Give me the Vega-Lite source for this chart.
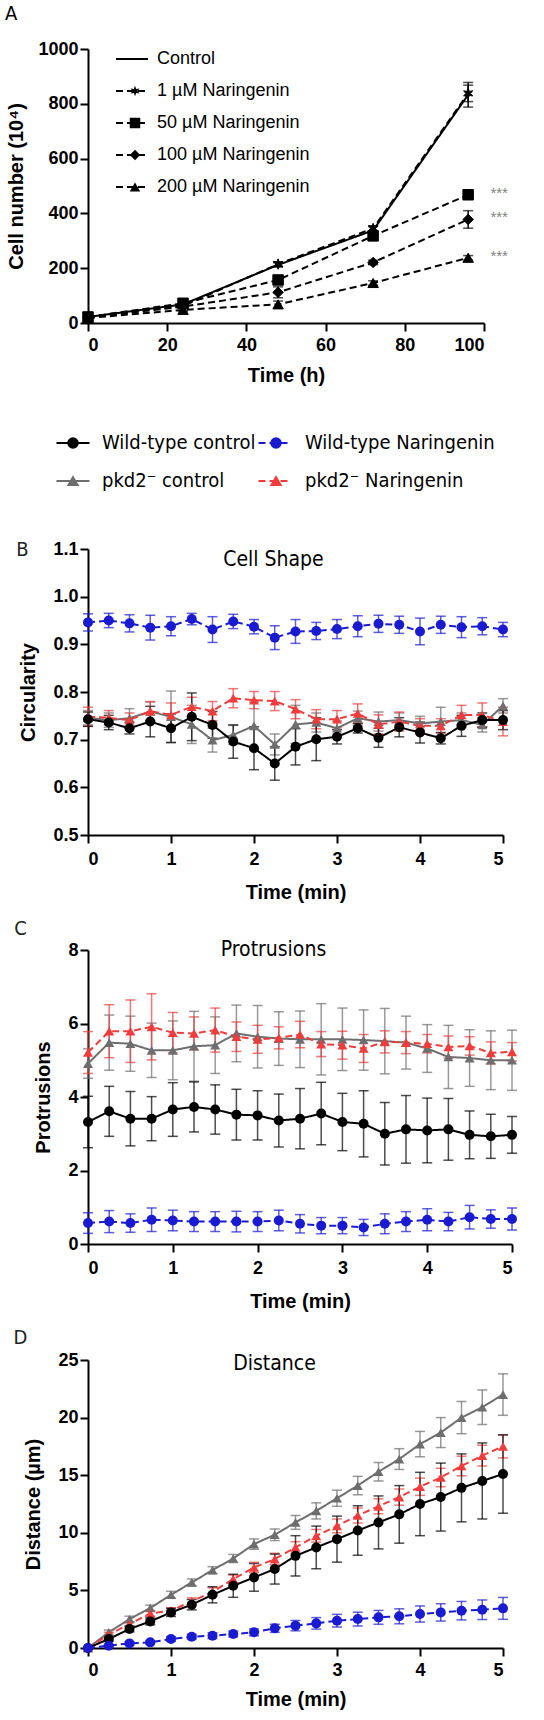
{
  "$schema": "https://vega.github.io/schema/vega-lite/v6.json",
  "background": "white",
  "padding": {"left": 4, "top": 4, "right": 5, "bottom": 2},
  "config": {
    "view": {"stroke": null},
    "axis": {
      "domainColor": "black", "domainWidth": 2, "tickColor": "black", "tickWidth": 2, "tickSize": 8,
      "labelFont": "Liberation Sans", "labelFontWeight": "bold", "labelFontSize": 18, "labelColor": "black",
      "titleFont": "Liberation Sans", "titleFontWeight": "bold", "titleFontSize": 20, "titleColor": "black",
      "grid": false
    },
    "axisX": {"labelPadding": 6, "titlePadding": 11},
    "axisY": {"labelPadding": 2, "titlePadding": 14},
    "title": {"font": "DejaVu Sans Condensed, Lato, sans-serif", "fontWeight": "normal", "color": "black", "fontSize": 22}
  },
  "resolve": {
    "scale": {"color": "independent", "shape": "independent", "strokeDash": "independent"},
    "legend": {"color": "independent", "shape": "independent", "strokeDash": "independent"}
  },
  "columns": 1,
  "align": "none",
  "spacing": 48,
  "datasets": {
    "a": [
      {"g": "Control", "t": 0, "v": 22, "e": 3},
      {"g": "Control", "t": 24, "v": 68, "e": 5},
      {"g": "Control", "t": 48, "v": 212, "e": 8},
      {"g": "Control", "t": 72, "v": 338, "e": 14},
      {"g": "Control", "t": 96, "v": 833, "e": 45},
      {"g": "1 µM Naringenin", "t": 0, "v": 22, "e": 3},
      {"g": "1 µM Naringenin", "t": 24, "v": 62, "e": 5},
      {"g": "1 µM Naringenin", "t": 48, "v": 215, "e": 8},
      {"g": "1 µM Naringenin", "t": 72, "v": 345, "e": 10},
      {"g": "1 µM Naringenin", "t": 96, "v": 838, "e": 30},
      {"g": "50 µM Naringenin", "t": 0, "v": 22, "e": 3},
      {"g": "50 µM Naringenin", "t": 24, "v": 72, "e": 8},
      {"g": "50 µM Naringenin", "t": 48, "v": 157, "e": 10},
      {"g": "50 µM Naringenin", "t": 72, "v": 318, "e": 10},
      {"g": "50 µM Naringenin", "t": 96, "v": 468, "e": 10, "sig": "***"},
      {"g": "100 µM Naringenin", "t": 0, "v": 20, "e": 3},
      {"g": "100 µM Naringenin", "t": 24, "v": 60, "e": 5},
      {"g": "100 µM Naringenin", "t": 48, "v": 112, "e": 20},
      {"g": "100 µM Naringenin", "t": 72, "v": 221, "e": 8},
      {"g": "100 µM Naringenin", "t": 96, "v": 378, "e": 32, "sig": "***"},
      {"g": "200 µM Naringenin", "t": 0, "v": 18, "e": 3},
      {"g": "200 µM Naringenin", "t": 24, "v": 48, "e": 5},
      {"g": "200 µM Naringenin", "t": 48, "v": 68, "e": 12},
      {"g": "200 µM Naringenin", "t": 72, "v": 146, "e": 8},
      {"g": "200 µM Naringenin", "t": 96, "v": 238, "e": 8, "sig": "***"}
    ],
    "b": [
      {"s": "pkd2⁻ control", "t": 0, "v": 0.746, "e": 0.015},
      {"s": "pkd2⁻ control", "t": 0.25, "v": 0.741, "e": 0.015},
      {"s": "pkd2⁻ control", "t": 0.5, "v": 0.745, "e": 0.02},
      {"s": "pkd2⁻ control", "t": 0.75, "v": 0.759, "e": 0.02},
      {"s": "pkd2⁻ control", "t": 1, "v": 0.748, "e": 0.054},
      {"s": "pkd2⁻ control", "t": 1.25, "v": 0.732, "e": 0.04},
      {"s": "pkd2⁻ control", "t": 1.5, "v": 0.699, "e": 0.025},
      {"s": "pkd2⁻ control", "t": 1.75, "v": 0.71, "e": 0.02},
      {"s": "pkd2⁻ control", "t": 2, "v": 0.729, "e": 0.05},
      {"s": "pkd2⁻ control", "t": 2.25, "v": 0.69, "e": 0.022},
      {"s": "pkd2⁻ control", "t": 2.5, "v": 0.732, "e": 0.04},
      {"s": "pkd2⁻ control", "t": 2.75, "v": 0.736, "e": 0.02},
      {"s": "pkd2⁻ control", "t": 3, "v": 0.724, "e": 0.015},
      {"s": "pkd2⁻ control", "t": 3.25, "v": 0.745, "e": 0.015},
      {"s": "pkd2⁻ control", "t": 3.5, "v": 0.738, "e": 0.02},
      {"s": "pkd2⁻ control", "t": 3.75, "v": 0.741, "e": 0.015},
      {"s": "pkd2⁻ control", "t": 4, "v": 0.734, "e": 0.015},
      {"s": "pkd2⁻ control", "t": 4.25, "v": 0.738, "e": 0.03},
      {"s": "pkd2⁻ control", "t": 4.5, "v": 0.741, "e": 0.015},
      {"s": "pkd2⁻ control", "t": 4.75, "v": 0.731, "e": 0.015},
      {"s": "pkd2⁻ control", "t": 5, "v": 0.771, "e": 0.015},
      {"s": "pkd2⁻ Naringenin", "t": 0, "v": 0.748, "e": 0.02},
      {"s": "pkd2⁻ Naringenin", "t": 0.25, "v": 0.746, "e": 0.015},
      {"s": "pkd2⁻ Naringenin", "t": 0.5, "v": 0.741, "e": 0.015},
      {"s": "pkd2⁻ Naringenin", "t": 0.75, "v": 0.76, "e": 0.02},
      {"s": "pkd2⁻ Naringenin", "t": 1, "v": 0.752, "e": 0.025},
      {"s": "pkd2⁻ Naringenin", "t": 1.25, "v": 0.769, "e": 0.02},
      {"s": "pkd2⁻ Naringenin", "t": 1.5, "v": 0.76, "e": 0.02},
      {"s": "pkd2⁻ Naringenin", "t": 1.75, "v": 0.787, "e": 0.02},
      {"s": "pkd2⁻ Naringenin", "t": 2, "v": 0.783, "e": 0.018},
      {"s": "pkd2⁻ Naringenin", "t": 2.25, "v": 0.781, "e": 0.02},
      {"s": "pkd2⁻ Naringenin", "t": 2.5, "v": 0.764, "e": 0.02},
      {"s": "pkd2⁻ Naringenin", "t": 2.75, "v": 0.743, "e": 0.02},
      {"s": "pkd2⁻ Naringenin", "t": 3, "v": 0.743, "e": 0.018},
      {"s": "pkd2⁻ Naringenin", "t": 3.25, "v": 0.755, "e": 0.02},
      {"s": "pkd2⁻ Naringenin", "t": 3.5, "v": 0.732, "e": 0.02},
      {"s": "pkd2⁻ Naringenin", "t": 3.75, "v": 0.738, "e": 0.02},
      {"s": "pkd2⁻ Naringenin", "t": 4, "v": 0.729, "e": 0.015},
      {"s": "pkd2⁻ Naringenin", "t": 4.25, "v": 0.729, "e": 0.015},
      {"s": "pkd2⁻ Naringenin", "t": 4.5, "v": 0.752, "e": 0.02},
      {"s": "pkd2⁻ Naringenin", "t": 4.75, "v": 0.752, "e": 0.025},
      {"s": "pkd2⁻ Naringenin", "t": 5, "v": 0.738, "e": 0.03},
      {"s": "Wild-type control", "t": 0, "v": 0.743, "e": 0.015},
      {"s": "Wild-type control", "t": 0.25, "v": 0.736, "e": 0.015},
      {"s": "Wild-type control", "t": 0.5, "v": 0.724, "e": 0.012},
      {"s": "Wild-type control", "t": 0.75, "v": 0.738, "e": 0.032},
      {"s": "Wild-type control", "t": 1, "v": 0.724, "e": 0.03},
      {"s": "Wild-type control", "t": 1.25, "v": 0.748, "e": 0.05},
      {"s": "Wild-type control", "t": 1.5, "v": 0.731, "e": 0.028},
      {"s": "Wild-type control", "t": 1.75, "v": 0.696, "e": 0.035},
      {"s": "Wild-type control", "t": 2, "v": 0.682, "e": 0.045},
      {"s": "Wild-type control", "t": 2.25, "v": 0.65, "e": 0.035},
      {"s": "Wild-type control", "t": 2.5, "v": 0.685, "e": 0.038},
      {"s": "Wild-type control", "t": 2.75, "v": 0.701, "e": 0.045},
      {"s": "Wild-type control", "t": 3, "v": 0.706, "e": 0.015},
      {"s": "Wild-type control", "t": 3.25, "v": 0.724, "e": 0.01},
      {"s": "Wild-type control", "t": 3.5, "v": 0.704, "e": 0.02},
      {"s": "Wild-type control", "t": 3.75, "v": 0.726, "e": 0.02},
      {"s": "Wild-type control", "t": 4, "v": 0.715, "e": 0.022},
      {"s": "Wild-type control", "t": 4.25, "v": 0.703, "e": 0.012},
      {"s": "Wild-type control", "t": 4.5, "v": 0.729, "e": 0.022},
      {"s": "Wild-type control", "t": 4.75, "v": 0.741, "e": 0.015},
      {"s": "Wild-type control", "t": 5, "v": 0.741, "e": 0.02},
      {"s": "Wild-type Naringenin", "t": 0, "v": 0.946, "e": 0.018},
      {"s": "Wild-type Naringenin", "t": 0.25, "v": 0.95, "e": 0.015},
      {"s": "Wild-type Naringenin", "t": 0.5, "v": 0.944, "e": 0.018},
      {"s": "Wild-type Naringenin", "t": 0.75, "v": 0.935, "e": 0.026},
      {"s": "Wild-type Naringenin", "t": 1, "v": 0.938, "e": 0.02},
      {"s": "Wild-type Naringenin", "t": 1.25, "v": 0.953, "e": 0.012},
      {"s": "Wild-type Naringenin", "t": 1.5, "v": 0.931, "e": 0.027},
      {"s": "Wild-type Naringenin", "t": 1.75, "v": 0.948, "e": 0.015},
      {"s": "Wild-type Naringenin", "t": 2, "v": 0.937, "e": 0.015},
      {"s": "Wild-type Naringenin", "t": 2.25, "v": 0.914, "e": 0.025},
      {"s": "Wild-type Naringenin", "t": 2.5, "v": 0.927, "e": 0.025},
      {"s": "Wild-type Naringenin", "t": 2.75, "v": 0.928, "e": 0.018},
      {"s": "Wild-type Naringenin", "t": 3, "v": 0.932, "e": 0.02},
      {"s": "Wild-type Naringenin", "t": 3.25, "v": 0.938, "e": 0.022},
      {"s": "Wild-type Naringenin", "t": 3.5, "v": 0.943, "e": 0.018},
      {"s": "Wild-type Naringenin", "t": 3.75, "v": 0.941, "e": 0.018},
      {"s": "Wild-type Naringenin", "t": 4, "v": 0.927, "e": 0.028},
      {"s": "Wild-type Naringenin", "t": 4.25, "v": 0.941, "e": 0.018},
      {"s": "Wild-type Naringenin", "t": 4.5, "v": 0.936, "e": 0.022},
      {"s": "Wild-type Naringenin", "t": 4.75, "v": 0.938, "e": 0.018},
      {"s": "Wild-type Naringenin", "t": 5, "v": 0.931, "e": 0.015}
    ],
    "c": [
      {"s": "pkd2⁻ control", "t": 0, "v": 4.91, "e": 0.4},
      {"s": "pkd2⁻ control", "t": 0.25, "v": 5.48, "e": 0.75},
      {"s": "pkd2⁻ control", "t": 0.5, "v": 5.45, "e": 0.75},
      {"s": "pkd2⁻ control", "t": 0.75, "v": 5.27, "e": 0.74},
      {"s": "pkd2⁻ control", "t": 1, "v": 5.27, "e": 0.8},
      {"s": "pkd2⁻ control", "t": 1.25, "v": 5.38, "e": 0.95},
      {"s": "pkd2⁻ control", "t": 1.5, "v": 5.41, "e": 0.77},
      {"s": "pkd2⁻ control", "t": 1.75, "v": 5.73, "e": 0.77},
      {"s": "pkd2⁻ control", "t": 2, "v": 5.64, "e": 0.85},
      {"s": "pkd2⁻ control", "t": 2.25, "v": 5.59, "e": 0.73},
      {"s": "pkd2⁻ control", "t": 2.5, "v": 5.57, "e": 0.77},
      {"s": "pkd2⁻ control", "t": 2.75, "v": 5.57, "e": 0.97},
      {"s": "pkd2⁻ control", "t": 3, "v": 5.57, "e": 0.85},
      {"s": "pkd2⁻ control", "t": 3.25, "v": 5.55, "e": 0.82},
      {"s": "pkd2⁻ control", "t": 3.5, "v": 5.52, "e": 0.89},
      {"s": "pkd2⁻ control", "t": 3.75, "v": 5.48, "e": 0.72},
      {"s": "pkd2⁻ control", "t": 4, "v": 5.32, "e": 0.65},
      {"s": "pkd2⁻ control", "t": 4.25, "v": 5.09, "e": 0.86},
      {"s": "pkd2⁻ control", "t": 4.5, "v": 5.06, "e": 0.77},
      {"s": "pkd2⁻ control", "t": 4.75, "v": 5.0, "e": 0.8},
      {"s": "pkd2⁻ control", "t": 5, "v": 5.0, "e": 0.82},
      {"s": "pkd2⁻ Naringenin", "t": 0, "v": 5.21, "e": 0.57},
      {"s": "pkd2⁻ Naringenin", "t": 0.25, "v": 5.79, "e": 0.72},
      {"s": "pkd2⁻ Naringenin", "t": 0.5, "v": 5.79, "e": 0.85},
      {"s": "pkd2⁻ Naringenin", "t": 0.75, "v": 5.91, "e": 0.9},
      {"s": "pkd2⁻ Naringenin", "t": 1, "v": 5.75, "e": 0.55},
      {"s": "pkd2⁻ Naringenin", "t": 1.25, "v": 5.73, "e": 0.45},
      {"s": "pkd2⁻ Naringenin", "t": 1.5, "v": 5.82, "e": 0.6},
      {"s": "pkd2⁻ Naringenin", "t": 1.75, "v": 5.64, "e": 0.4},
      {"s": "pkd2⁻ Naringenin", "t": 2, "v": 5.57, "e": 0.38},
      {"s": "pkd2⁻ Naringenin", "t": 2.25, "v": 5.61, "e": 0.3},
      {"s": "pkd2⁻ Naringenin", "t": 2.5, "v": 5.7, "e": 0.36},
      {"s": "pkd2⁻ Naringenin", "t": 2.75, "v": 5.44, "e": 0.34},
      {"s": "pkd2⁻ Naringenin", "t": 3, "v": 5.41, "e": 0.38},
      {"s": "pkd2⁻ Naringenin", "t": 3.25, "v": 5.32, "e": 0.38},
      {"s": "pkd2⁻ Naringenin", "t": 3.5, "v": 5.5, "e": 0.3},
      {"s": "pkd2⁻ Naringenin", "t": 3.75, "v": 5.48, "e": 0.3},
      {"s": "pkd2⁻ Naringenin", "t": 4, "v": 5.45, "e": 0.25},
      {"s": "pkd2⁻ Naringenin", "t": 4.25, "v": 5.36, "e": 0.3},
      {"s": "pkd2⁻ Naringenin", "t": 4.5, "v": 5.39, "e": 0.25},
      {"s": "pkd2⁻ Naringenin", "t": 4.75, "v": 5.2, "e": 0.3},
      {"s": "pkd2⁻ Naringenin", "t": 5, "v": 5.23, "e": 0.25},
      {"s": "Wild-type control", "t": 0, "v": 3.32, "e": 0.7},
      {"s": "Wild-type control", "t": 0.25, "v": 3.61, "e": 0.68},
      {"s": "Wild-type control", "t": 0.5, "v": 3.41, "e": 0.74},
      {"s": "Wild-type control", "t": 0.75, "v": 3.41, "e": 0.6},
      {"s": "Wild-type control", "t": 1, "v": 3.66, "e": 0.73},
      {"s": "Wild-type control", "t": 1.25, "v": 3.73, "e": 0.68},
      {"s": "Wild-type control", "t": 1.5, "v": 3.66, "e": 0.67},
      {"s": "Wild-type control", "t": 1.75, "v": 3.52, "e": 0.69},
      {"s": "Wild-type control", "t": 2, "v": 3.5, "e": 0.67},
      {"s": "Wild-type control", "t": 2.25, "v": 3.36, "e": 0.72},
      {"s": "Wild-type control", "t": 2.5, "v": 3.41, "e": 0.82},
      {"s": "Wild-type control", "t": 2.75, "v": 3.55, "e": 0.85},
      {"s": "Wild-type control", "t": 3, "v": 3.32, "e": 0.78},
      {"s": "Wild-type control", "t": 3.25, "v": 3.27, "e": 0.9},
      {"s": "Wild-type control", "t": 3.5, "v": 3.0, "e": 0.85},
      {"s": "Wild-type control", "t": 3.75, "v": 3.12, "e": 0.92},
      {"s": "Wild-type control", "t": 4, "v": 3.09, "e": 0.88},
      {"s": "Wild-type control", "t": 4.25, "v": 3.12, "e": 0.84},
      {"s": "Wild-type control", "t": 4.5, "v": 2.97, "e": 0.65},
      {"s": "Wild-type control", "t": 4.75, "v": 2.93, "e": 0.6},
      {"s": "Wild-type control", "t": 5, "v": 2.97, "e": 0.5},
      {"s": "Wild-type Naringenin", "t": 0, "v": 0.57, "e": 0.28},
      {"s": "Wild-type Naringenin", "t": 0.25, "v": 0.61, "e": 0.3},
      {"s": "Wild-type Naringenin", "t": 0.5, "v": 0.57, "e": 0.25},
      {"s": "Wild-type Naringenin", "t": 0.75, "v": 0.66, "e": 0.32},
      {"s": "Wild-type Naringenin", "t": 1, "v": 0.64, "e": 0.28},
      {"s": "Wild-type Naringenin", "t": 1.25, "v": 0.61, "e": 0.27},
      {"s": "Wild-type Naringenin", "t": 1.5, "v": 0.61, "e": 0.27},
      {"s": "Wild-type Naringenin", "t": 1.75, "v": 0.61, "e": 0.28},
      {"s": "Wild-type Naringenin", "t": 2, "v": 0.61, "e": 0.27},
      {"s": "Wild-type Naringenin", "t": 2.25, "v": 0.64, "e": 0.28},
      {"s": "Wild-type Naringenin", "t": 2.5, "v": 0.55, "e": 0.25},
      {"s": "Wild-type Naringenin", "t": 2.75, "v": 0.5, "e": 0.22},
      {"s": "Wild-type Naringenin", "t": 3, "v": 0.5, "e": 0.22},
      {"s": "Wild-type Naringenin", "t": 3.25, "v": 0.45, "e": 0.22},
      {"s": "Wild-type Naringenin", "t": 3.5, "v": 0.55, "e": 0.27},
      {"s": "Wild-type Naringenin", "t": 3.75, "v": 0.61, "e": 0.27},
      {"s": "Wild-type Naringenin", "t": 4, "v": 0.66, "e": 0.3},
      {"s": "Wild-type Naringenin", "t": 4.25, "v": 0.61, "e": 0.25},
      {"s": "Wild-type Naringenin", "t": 4.5, "v": 0.73, "e": 0.32},
      {"s": "Wild-type Naringenin", "t": 4.75, "v": 0.68, "e": 0.25},
      {"s": "Wild-type Naringenin", "t": 5, "v": 0.68, "e": 0.3}
    ],
    "d": [
      {"s": "pkd2⁻ control", "t": 0, "v": 0, "e": 0},
      {"s": "pkd2⁻ control", "t": 0.25, "v": 1.36, "e": 0.2},
      {"s": "pkd2⁻ control", "t": 0.5, "v": 2.51, "e": 0.25},
      {"s": "pkd2⁻ control", "t": 0.75, "v": 3.47, "e": 0.25},
      {"s": "pkd2⁻ control", "t": 1, "v": 4.62, "e": 0.3},
      {"s": "pkd2⁻ control", "t": 1.25, "v": 5.69, "e": 0.3},
      {"s": "pkd2⁻ control", "t": 1.5, "v": 6.76, "e": 0.3},
      {"s": "pkd2⁻ control", "t": 1.75, "v": 7.77, "e": 0.35},
      {"s": "pkd2⁻ control", "t": 2, "v": 9.02, "e": 0.45},
      {"s": "pkd2⁻ control", "t": 2.25, "v": 9.83, "e": 0.5},
      {"s": "pkd2⁻ control", "t": 2.5, "v": 10.9, "e": 0.6},
      {"s": "pkd2⁻ control", "t": 2.75, "v": 11.9, "e": 0.7},
      {"s": "pkd2⁻ control", "t": 3, "v": 13.0, "e": 0.7},
      {"s": "pkd2⁻ control", "t": 3.25, "v": 14.1, "e": 0.8},
      {"s": "pkd2⁻ control", "t": 3.5, "v": 15.3, "e": 0.8},
      {"s": "pkd2⁻ control", "t": 3.75, "v": 16.4, "e": 0.9},
      {"s": "pkd2⁻ control", "t": 4, "v": 17.7, "e": 1.1},
      {"s": "pkd2⁻ control", "t": 4.25, "v": 18.7, "e": 1.3},
      {"s": "pkd2⁻ control", "t": 4.5, "v": 20.0, "e": 1.4},
      {"s": "pkd2⁻ control", "t": 4.75, "v": 20.9, "e": 1.5},
      {"s": "pkd2⁻ control", "t": 5, "v": 22.0, "e": 1.8},
      {"s": "pkd2⁻ Naringenin", "t": 0, "v": 0, "e": 0},
      {"s": "pkd2⁻ Naringenin", "t": 0.25, "v": 1.16, "e": 0.2},
      {"s": "pkd2⁻ Naringenin", "t": 0.5, "v": 2.08, "e": 0.2},
      {"s": "pkd2⁻ Naringenin", "t": 0.75, "v": 3.0, "e": 0.25},
      {"s": "pkd2⁻ Naringenin", "t": 1, "v": 3.24, "e": 0.25},
      {"s": "pkd2⁻ Naringenin", "t": 1.25, "v": 4.05, "e": 0.3},
      {"s": "pkd2⁻ Naringenin", "t": 1.5, "v": 4.88, "e": 0.35},
      {"s": "pkd2⁻ Naringenin", "t": 1.75, "v": 5.98, "e": 0.35},
      {"s": "pkd2⁻ Naringenin", "t": 2, "v": 6.99, "e": 0.45},
      {"s": "pkd2⁻ Naringenin", "t": 2.25, "v": 7.72, "e": 0.5},
      {"s": "pkd2⁻ Naringenin", "t": 2.5, "v": 8.73, "e": 0.5},
      {"s": "pkd2⁻ Naringenin", "t": 2.75, "v": 9.74, "e": 0.55},
      {"s": "pkd2⁻ Naringenin", "t": 3, "v": 10.6, "e": 0.6},
      {"s": "pkd2⁻ Naringenin", "t": 3.25, "v": 11.5, "e": 0.65},
      {"s": "pkd2⁻ Naringenin", "t": 3.5, "v": 12.3, "e": 0.65},
      {"s": "pkd2⁻ Naringenin", "t": 3.75, "v": 13.1, "e": 0.7},
      {"s": "pkd2⁻ Naringenin", "t": 4, "v": 14.0, "e": 0.75},
      {"s": "pkd2⁻ Naringenin", "t": 4.25, "v": 14.8, "e": 0.8},
      {"s": "pkd2⁻ Naringenin", "t": 4.5, "v": 15.8, "e": 0.85},
      {"s": "pkd2⁻ Naringenin", "t": 4.75, "v": 16.7, "e": 0.9},
      {"s": "pkd2⁻ Naringenin", "t": 5, "v": 17.5, "e": 1.0},
      {"s": "Wild-type control", "t": 0, "v": 0, "e": 0},
      {"s": "Wild-type control", "t": 0.25, "v": 0.78, "e": 0.2},
      {"s": "Wild-type control", "t": 0.5, "v": 1.65, "e": 0.25},
      {"s": "Wild-type control", "t": 0.75, "v": 2.31, "e": 0.3},
      {"s": "Wild-type control", "t": 1, "v": 3.09, "e": 0.35},
      {"s": "Wild-type control", "t": 1.25, "v": 3.76, "e": 0.45},
      {"s": "Wild-type control", "t": 1.5, "v": 4.62, "e": 0.7},
      {"s": "Wild-type control", "t": 1.75, "v": 5.4, "e": 1.0},
      {"s": "Wild-type control", "t": 2, "v": 6.13, "e": 1.2},
      {"s": "Wild-type control", "t": 2.25, "v": 6.85, "e": 1.3},
      {"s": "Wild-type control", "t": 2.5, "v": 8.0, "e": 1.75},
      {"s": "Wild-type control", "t": 2.75, "v": 8.73, "e": 1.85},
      {"s": "Wild-type control", "t": 3, "v": 9.45, "e": 2.0},
      {"s": "Wild-type control", "t": 3.25, "v": 10.2, "e": 2.15},
      {"s": "Wild-type control", "t": 3.5, "v": 10.9, "e": 2.3},
      {"s": "Wild-type control", "t": 3.75, "v": 11.6, "e": 2.5},
      {"s": "Wild-type control", "t": 4, "v": 12.5, "e": 2.75},
      {"s": "Wild-type control", "t": 4.25, "v": 13.1, "e": 2.95},
      {"s": "Wild-type control", "t": 4.5, "v": 13.9, "e": 2.95},
      {"s": "Wild-type control", "t": 4.75, "v": 14.5, "e": 3.3},
      {"s": "Wild-type control", "t": 5, "v": 15.1, "e": 3.4},
      {"s": "Wild-type Naringenin", "t": 0, "v": 0, "e": 0},
      {"s": "Wild-type Naringenin", "t": 0.25, "v": 0.2, "e": 0.1},
      {"s": "Wild-type Naringenin", "t": 0.5, "v": 0.4, "e": 0.15},
      {"s": "Wild-type Naringenin", "t": 0.75, "v": 0.49, "e": 0.15},
      {"s": "Wild-type Naringenin", "t": 1, "v": 0.78, "e": 0.2},
      {"s": "Wild-type Naringenin", "t": 1.25, "v": 0.98, "e": 0.2},
      {"s": "Wild-type Naringenin", "t": 1.5, "v": 1.07, "e": 0.25},
      {"s": "Wild-type Naringenin", "t": 1.75, "v": 1.21, "e": 0.25},
      {"s": "Wild-type Naringenin", "t": 2, "v": 1.36, "e": 0.3},
      {"s": "Wild-type Naringenin", "t": 2.25, "v": 1.71, "e": 0.35},
      {"s": "Wild-type Naringenin", "t": 2.5, "v": 1.94, "e": 0.45},
      {"s": "Wild-type Naringenin", "t": 2.75, "v": 2.14, "e": 0.5},
      {"s": "Wild-type Naringenin", "t": 3, "v": 2.37, "e": 0.55},
      {"s": "Wild-type Naringenin", "t": 3.25, "v": 2.51, "e": 0.6},
      {"s": "Wild-type Naringenin", "t": 3.5, "v": 2.66, "e": 0.6},
      {"s": "Wild-type Naringenin", "t": 3.75, "v": 2.75, "e": 0.65},
      {"s": "Wild-type Naringenin", "t": 4, "v": 2.95, "e": 0.7},
      {"s": "Wild-type Naringenin", "t": 4.25, "v": 3.09, "e": 0.75},
      {"s": "Wild-type Naringenin", "t": 4.5, "v": 3.24, "e": 0.8},
      {"s": "Wild-type Naringenin", "t": 4.75, "v": 3.32, "e": 0.85},
      {"s": "Wild-type Naringenin", "t": 5, "v": 3.44, "e": 0.95}
    ]
  },
  "concat": [
    {
      "title": {"text": "A", "anchor": "start", "frame": "bounds", "fontSize": 20, "offset": 16, "dx": -2},
      "width": 396,
      "height": 274,
      "data": {"name": "a"},
      "encoding": {
        "x": {"field": "t", "type": "quantitative", "scale": {"domain": [0, 100], "nice": false},
              "axis": {"values": [0, 20, 40, 60, 80, 100], "title": "Time (h)", "labelPadding": 5, "titlePadding": 11}},
        "y": {"field": "v", "type": "quantitative", "scale": {"domain": [0, 1000], "nice": false},
              "axis": {"values": [0, 200, 400, 600, 800, 1000], "format": "d", "title": "Cell number (10⁴)", "titlePadding": 11}}
      },
      "layer": [
        {
          "mark": {"type": "errorbar", "color": "black", "thickness": 1.5, "ticks": {"size": 10}},
          "encoding": {"yError": {"field": "e"}, "detail": {"field": "g", "type": "nominal"}}
        },
        {
          "mark": {"type": "line", "color": "black", "strokeWidth": 2},
          "encoding": {
            "strokeDash": {"field": "g", "type": "nominal",
              "scale": {"domain": ["200 µM Naringenin", "100 µM Naringenin", "50 µM Naringenin", "1 µM Naringenin", "Control"],
                        "range": [[7, 4], [7, 4], [7, 4], [7, 4], [1, 0]]},
              "legend": {
                "orient": "none", "legendX": 35, "legendY": 1, "title": null, "padding": 0,
                "values": ["Control", "1 µM Naringenin", "50 µM Naringenin", "100 µM Naringenin", "200 µM Naringenin"],
                "symbolType": "M-2,0H2", "symbolSize": 256, "symbolStrokeWidth": 2, "symbolStrokeColor": "black",
                "labelFont": "Liberation Sans", "labelFontSize": 18, "labelColor": "black", "labelOffset": 16,
                "rowPadding": 14, "labelLimit": 300
              }}
          }
        },
        {
          "mark": {"type": "point", "filled": true, "color": "black", "stroke": "black", "strokeWidth": 1, "size": 110, "opacity": 1},
          "encoding": {
            "shape": {"field": "g", "type": "nominal",
              "scale": {"domain": ["Control", "1 µM Naringenin", "50 µM Naringenin", "100 µM Naringenin", "200 µM Naringenin"],
                        "range": ["M0,0", "M0,-1L0.22,-0.38L0.87,-0.5L0.44,0L0.87,0.5L0.22,0.38L0,1L-0.22,0.38L-0.87,0.5L-0.44,0L-0.87,-0.5L-0.22,-0.38Z", "square", "diamond", "triangle-up"]},
              "legend": {
                "orient": "none", "legendX": 38, "legendY": 1, "title": null, "padding": 0,
                "values": ["Control", "1 µM Naringenin", "50 µM Naringenin", "100 µM Naringenin", "200 µM Naringenin"],
                "symbolSize": 110, "symbolFillColor": "black", "symbolStrokeColor": "black",
                "labelFont": "Liberation Sans", "labelFontSize": 18, "labelOpacity": 0, "labelOffset": 16,
                "rowPadding": 14, "labelLimit": 300
              }}
          }
        },
        {
          "transform": [{"filter": "datum.sig"}],
          "mark": {"type": "text", "dx": 31, "dy": -2, "color": "#808080", "fontSize": 15, "font": "Liberation Sans"},
          "encoding": {"text": {"field": "sig"}}
        }
      ]
    },
    {
      "spacing": 16,
      "resolve": {"legend": {"color": "independent", "shape": "independent", "strokeDash": "independent", "stroke": "independent"}},
      "vconcat": [
        {
          "width": 415,
          "height": 286,
          "data": {"name": "b"},
          "encoding": {
            "color": {"field": "s", "type": "nominal",
              "scale": {"domain": ["Wild-type control", "pkd2⁻ control", "Wild-type Naringenin", "pkd2⁻ Naringenin"],
                        "range": ["#000000", "#6e6e6e", "#1a1ad0", "#f03c3c"]},
              "legend": {
                "orient": "none", "legendX": -25, "legendY": -116, "title": null, "padding": 0, "columns": 2,
                "symbolSize": 100, "labelFont": "DejaVu Sans Condensed, Lato, sans-serif", "labelFontSize": 20,
                "labelColor": "black", "labelOffset": 19, "columnPadding": 10, "rowPadding": 18, "labelLimit": 400,
                "symbolOpacity": 1
              }}
          },
          "resolve": {"axis": {"x": "independent", "y": "independent"}},
          "layer": [
            {
              "mark": {"type": "errorbar", "thickness": 1.5, "ticks": {"size": 10, "opacity": 0.7}, "rule": {"opacity": 0.7}},
              "encoding": {
                "x": {"field": "t", "type": "quantitative", "scale": {"domain": [0, 5], "nice": false}, "axis": null},
                "y": {"field": "v", "type": "quantitative", "scale": {"domain": [0.5, 1.1], "nice": false, "zero": false}, "axis": null},
                "yError": {"field": "e"}
              }
            },
            {
              "mark": {"type": "line", "strokeWidth": 2},
              "encoding": {
                "x": {"field": "t", "type": "quantitative", "scale": {"domain": [0, 5], "nice": false},
                      "axis": {"values": [0, 1, 2, 3, 4, 5], "title": "Time (min)", "labelPadding": 7, "titlePadding": 14}},
                "y": {"field": "v", "type": "quantitative", "scale": {"domain": [0.5, 1.1], "nice": false, "zero": false},
                      "axis": {"values": [0.5, 0.6, 0.7, 0.8, 0.9, 1.0, 1.1], "format": ".1f", "title": "Circularity", "titlePadding": 14}},
                "stroke": {"field": "s", "type": "nominal",
                  "scale": {"domain": ["pkd2⁻ Naringenin", "Wild-type Naringenin", "pkd2⁻ control", "Wild-type control"],
                            "range": ["#f03c3c", "#1a1ad0", "#6e6e6e", "#000000"]},
                  "legend": {
                    "orient": "none", "legendX": -25, "legendY": -116, "title": null, "padding": 0, "columns": 2,
                    "values": ["Wild-type control", "pkd2⁻ control", "Wild-type Naringenin", "pkd2⁻ Naringenin"],
                    "symbolType": "M-3.3,0H3.3", "symbolSize": 100, "symbolStrokeWidth": 2,
                    "labelFont": "DejaVu Sans Condensed, Lato, sans-serif", "labelFontSize": 20, "labelOpacity": 0,
                    "labelOffset": 19, "columnPadding": -2, "rowPadding": 18, "labelLimit": 400
                  }},
                "strokeDash": {"field": "s", "type": "nominal", "legend": null,
                  "scale": {"domain": ["pkd2⁻ Naringenin", "Wild-type Naringenin", "pkd2⁻ control", "Wild-type control"], "range": [[7, 4], [7, 4], [1, 0], [1, 0]]}}
              }
            },
            {
              "mark": {"type": "point", "filled": true, "size": 100, "opacity": 1},
              "encoding": {
                "x": {"field": "t", "type": "quantitative", "scale": {"domain": [0, 5], "nice": false},
                      "axis": {"orient": "top", "domain": false, "ticks": false, "labels": false, "title": "B",
                               "titleX": -66, "titleY": 0, "titleAngle": 0, "titleAlign": "center", "titleBaseline": "middle",
                               "titleFont": "DejaVu Sans Condensed, Lato, sans-serif", "titleFontWeight": "normal", "titleFontSize": 20, "titleColor": "#222222"}},
                "y": {"field": "v", "type": "quantitative", "scale": {"domain": [0.5, 1.1], "nice": false, "zero": false},
                      "axis": {"orient": "right", "domain": false, "ticks": false, "labels": false, "title": "Cell Shape",
                               "titleX": -230, "titleY": 10, "titleAngle": 0, "titleAlign": "center", "titleBaseline": "middle",
                               "titleFont": "DejaVu Sans Condensed, Lato, sans-serif", "titleFontWeight": "normal", "titleFontSize": 21}},
                "shape": {"field": "s", "type": "nominal", "legend": null,
                  "scale": {"domain": ["Wild-type control", "pkd2⁻ control", "Wild-type Naringenin", "pkd2⁻ Naringenin"], "range": ["circle", "triangle-up", "circle", "triangle-up"]}}
              }
            }
          ]
        },
        {
          "width": 424,
          "height": 294,
          "data": {"name": "c"},
          "encoding": {
            "color": {"field": "s", "type": "nominal", "legend": null,
              "scale": {"domain": ["Wild-type control", "pkd2⁻ control", "Wild-type Naringenin", "pkd2⁻ Naringenin"],
                        "range": ["#000000", "#6e6e6e", "#1a1ad0", "#f03c3c"]}}
          },
          "resolve": {"axis": {"x": "independent", "y": "independent"}},
          "layer": [
            {
              "mark": {"type": "errorbar", "thickness": 1.5, "ticks": {"size": 10, "opacity": 0.7}, "rule": {"opacity": 0.7}},
              "encoding": {
                "x": {"field": "t", "type": "quantitative", "scale": {"domain": [0, 5], "nice": false}, "axis": null},
                "y": {"field": "v", "type": "quantitative", "scale": {"domain": [0, 8], "nice": false}, "axis": null},
                "yError": {"field": "e"}
              }
            },
            {
              "mark": {"type": "line", "strokeWidth": 2},
              "encoding": {
                "x": {"field": "t", "type": "quantitative", "scale": {"domain": [0, 5], "nice": false},
                      "axis": {"values": [0, 1, 2, 3, 4, 5], "title": "Time (min)", "labelPadding": 7, "titlePadding": 14}},
                "y": {"field": "v", "type": "quantitative", "scale": {"domain": [0, 8], "nice": false},
                      "axis": {"values": [0, 2, 4, 6, 8], "title": "Protrusions", "titlePadding": 14}},
                "stroke": {"field": "s", "type": "nominal", "legend": null,
                  "scale": {"domain": ["pkd2⁻ Naringenin", "Wild-type Naringenin", "pkd2⁻ control", "Wild-type control"],
                            "range": ["#f03c3c", "#1a1ad0", "#6e6e6e", "#000000"]}},
                "strokeDash": {"field": "s", "type": "nominal", "legend": null,
                  "scale": {"domain": ["pkd2⁻ Naringenin", "Wild-type Naringenin", "pkd2⁻ control", "Wild-type control"], "range": [[7, 4], [7, 4], [1, 0], [1, 0]]}}
              }
            },
            {
              "mark": {"type": "point", "filled": true, "size": 100, "opacity": 1},
              "encoding": {
                "x": {"field": "t", "type": "quantitative", "scale": {"domain": [0, 5], "nice": false},
                      "axis": {"orient": "top", "domain": false, "ticks": false, "labels": false, "title": "C",
                               "titleX": -68, "titleY": -22, "titleAngle": 0, "titleAlign": "center", "titleBaseline": "middle",
                               "titleFont": "DejaVu Sans Condensed, Lato, sans-serif", "titleFontWeight": "normal", "titleFontSize": 20, "titleColor": "#222222"}},
                "y": {"field": "v", "type": "quantitative", "scale": {"domain": [0, 8], "nice": false},
                      "axis": {"orient": "right", "domain": false, "ticks": false, "labels": false, "title": "Protrusions",
                               "titleX": -239, "titleY": -1, "titleAngle": 0, "titleAlign": "center", "titleBaseline": "middle",
                               "titleFont": "DejaVu Sans Condensed, Lato, sans-serif", "titleFontWeight": "normal", "titleFontSize": 21}},
                "shape": {"field": "s", "type": "nominal", "legend": null,
                  "scale": {"domain": ["Wild-type control", "pkd2⁻ control", "Wild-type Naringenin", "pkd2⁻ Naringenin"], "range": ["circle", "triangle-up", "circle", "triangle-up"]}}
              }
            }
          ]
        },
        {
          "width": 415,
          "height": 288,
          "data": {"name": "d"},
          "encoding": {
            "color": {"field": "s", "type": "nominal", "legend": null,
              "scale": {"domain": ["Wild-type control", "pkd2⁻ control", "Wild-type Naringenin", "pkd2⁻ Naringenin"],
                        "range": ["#000000", "#6e6e6e", "#1a1ad0", "#f03c3c"]}}
          },
          "resolve": {"axis": {"x": "independent", "y": "independent"}},
          "layer": [
            {
              "mark": {"type": "errorbar", "thickness": 1.5, "ticks": {"size": 10, "opacity": 0.7}, "rule": {"opacity": 0.7}},
              "encoding": {
                "x": {"field": "t", "type": "quantitative", "scale": {"domain": [0, 5], "nice": false}, "axis": null},
                "y": {"field": "v", "type": "quantitative", "scale": {"domain": [0, 25], "nice": false}, "axis": null},
                "yError": {"field": "e"}
              }
            },
            {
              "mark": {"type": "line", "strokeWidth": 2},
              "encoding": {
                "x": {"field": "t", "type": "quantitative", "scale": {"domain": [0, 5], "nice": false},
                      "axis": {"values": [0, 1, 2, 3, 4, 5], "title": "Time (min)", "labelPadding": 5, "titlePadding": 10}},
                "y": {"field": "v", "type": "quantitative", "scale": {"domain": [0, 25], "nice": false},
                      "axis": {"values": [0, 5, 10, 15, 20, 25], "title": "Distance  (µm)", "titlePadding": 14}},
                "stroke": {"field": "s", "type": "nominal", "legend": null,
                  "scale": {"domain": ["pkd2⁻ Naringenin", "Wild-type Naringenin", "pkd2⁻ control", "Wild-type control"],
                            "range": ["#f03c3c", "#1a1ad0", "#6e6e6e", "#000000"]}},
                "strokeDash": {"field": "s", "type": "nominal", "legend": null,
                  "scale": {"domain": ["pkd2⁻ Naringenin", "Wild-type Naringenin", "pkd2⁻ control", "Wild-type control"], "range": [[7, 4], [7, 4], [1, 0], [1, 0]]}}
              }
            },
            {
              "mark": {"type": "point", "filled": true, "size": 100, "opacity": 1},
              "encoding": {
                "x": {"field": "t", "type": "quantitative", "scale": {"domain": [0, 5], "nice": false},
                      "axis": {"orient": "top", "domain": false, "ticks": false, "labels": false, "title": "D",
                               "titleX": -68, "titleY": -23, "titleAngle": 0, "titleAlign": "center", "titleBaseline": "middle",
                               "titleFont": "DejaVu Sans Condensed, Lato, sans-serif", "titleFontWeight": "normal", "titleFontSize": 20, "titleColor": "#222222"}},
                "y": {"field": "v", "type": "quantitative", "scale": {"domain": [0, 25], "nice": false},
                      "axis": {"orient": "right", "domain": false, "ticks": false, "labels": false, "title": "Distance",
                               "titleX": -229, "titleY": 3, "titleAngle": 0, "titleAlign": "center", "titleBaseline": "middle",
                               "titleFont": "DejaVu Sans Condensed, Lato, sans-serif", "titleFontWeight": "normal", "titleFontSize": 21}},
                "shape": {"field": "s", "type": "nominal", "legend": null,
                  "scale": {"domain": ["Wild-type control", "pkd2⁻ control", "Wild-type Naringenin", "pkd2⁻ Naringenin"], "range": ["circle", "triangle-up", "circle", "triangle-up"]}}
              }
            }
          ]
        }
      ]
    }
  ]
}
